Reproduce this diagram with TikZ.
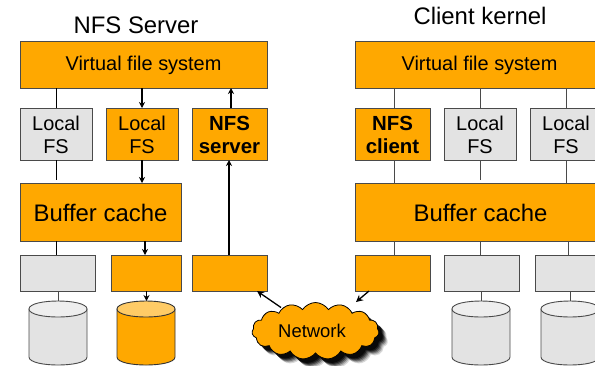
\documentclass[tikz,border=0pt]{standalone}
\usepackage{fontspec}
\setmainfont{Liberation Sans}
\usetikzlibrary{shapes.symbols,arrows.meta}
\definecolor{nfsorange}{HTML}{FFA800}
\definecolor{nfsgray}{HTML}{E3E3E3}
\definecolor{nfsedge}{HTML}{4A4A4A}
\newcommand{\bx}[7]{\node[#6,minimum width={(#4-#2)*1bp},minimum height={(#5-#3)*1bp}] (#1) at ({(#2+#4)/2},{(#3+#5)/2}) {};
  \node[#6,draw=none,fill=none] (#1t) at ({(#2+#4)/2},{(#3+#5)/2+1.2}) {#7};}
\newcommand{\cyl}[4]{% x1, x2, body style, top style
  \draw[#3] (#1,309) -- (#1,357) .. controls (#1,367.67) and (#2,367.67) .. (#2,357) -- (#2,309) -- cycle;
  \draw[#4] (#1,309) .. controls (#1,298.33) and (#2,298.33) .. (#2,309) .. controls (#2,319.67) and (#1,319.67) .. (#1,309) -- cycle;
}
\tikzset{
  boxbase/.style={draw=nfsedge,line width=0.9pt,inner sep=0pt,outer sep=0pt,align=center,text=black},
  orangebox/.style={boxbase,fill=nfsorange},
  graybox/.style={boxbase,fill=nfsgray},
  vfsfont/.style={font=\fontsize{20}{22}\selectfont},
  fsfont/.style={font=\fontsize{20}{23}\selectfont},
  boldfont/.style={font=\fontsize{20.5}{23}\selectfont\bfseries},
  bufffont/.style={font=\fontsize{24}{26}\selectfont},
  titlefont/.style={inner sep=0pt,font=\fontsize{24}{26}\selectfont},
  plainlink/.style={draw=nfsedge,line width=0.9pt},
  darklink/.style={draw=black,line width=0.9pt},
  arrowlink/.style={draw=black,line width=1.1pt,-{Stealth[length=6pt,width=6pt]}},
  diagarrow/.style={draw=black,line width=1.3pt,-{Stealth[length=7pt,width=7pt]}},
  cylg/.style={draw=nfsedge,line width=0.9pt,fill=nfsgray},
  cylgtop/.style={draw=nfsedge,line width=0.9pt,fill=nfsgray!60!white},
  cylo/.style={draw=black!80,line width=0.9pt,fill=nfsorange},
  cylotop/.style={draw=black!80,line width=0.9pt,fill=nfsorange!60!white},
  cloudbase/.style={cloud,cloud puffs=15,cloud puff arc=115,aspect=2.2,minimum width=127bp,minimum height=57bp,inner sep=0pt,outer sep=0pt},
}
\begin{document}
\begin{tikzpicture}[x=1bp,y=-1bp]
\useasboundingbox (0,0) rectangle (595,365);
\clip (0,0) rectangle (595,365);
\fill[white] (0,0) rectangle (595,365);
% x positions of the connectors
\foreach \n/\v in {a/56,b/142,c/145,d/146.5,e/58,f/231,g/229,h/394,i/480,j/566,k/568,l/481.5,m/570}
  \coordinate (x\n) at (\v,0);
% titles
\node[titlefont] (tserver) at (136,25) {NFS Server};
\node[titlefont] (tclient) at (480,15.5) {Client kernel};
% left stack
\bx{vfsl}{20}{41}{267}{88}{orangebox,vfsfont}{Virtual file system}
\bx{lfa}{20}{108}{92}{160}{graybox,fsfont}{Local\\FS}
\bx{lfb}{106}{108}{178}{160}{orangebox,fsfont}{Local\\FS}
\bx{nfss}{192}{108}{267}{160}{orangebox,boldfont}{NFS\\server}
\bx{bufl}{20}{183}{181}{241}{orangebox,bufffont}{Buffer cache}
\bx{dra}{20}{255}{95}{291}{graybox}{}
\bx{drb}{111}{255}{181}{291}{orangebox}{}
\bx{drc}{192}{255}{267}{291}{orangebox}{}
% right stack
\bx{vfsr}{355}{41}{600}{88}{orangebox}{}
\node[vfsfont] (vfsrt2) at (479.5,65.7) {Virtual file system};
\bx{nfsc}{355}{108}{430}{160}{orangebox,boldfont}{NFS\\client}
\bx{lfc}{444}{108}{516}{160}{graybox,fsfont}{Local\\FS}
\bx{lfd}{530}{108}{602}{160}{graybox,fsfont}{Local\\FS}
\bx{bufr}{355}{183}{606}{241}{orangebox}{}
\node[bufffont] (bufrt2) at (480.5,213) {Buffer cache};
\bx{drd}{355}{255}{430}{291}{orangebox}{}
\bx{dre}{444}{255}{519}{291}{graybox}{}
\bx{drf}{535}{255}{610}{291}{graybox}{}
% free ends and disk tops
\coordinate (lfastub) at (56,180);
\coordinate (lfcstub) at (480,180);
\coordinate (disktop) at (0,301);
% connectors, left
\draw[darklink] (vfsl.south -| xa) -- (lfa.north -| xa);
\draw[darklink] (lfa.south -| xa) -- (lfastub);
\draw[darklink] (bufl.south -| xa) -- (dra.north -| xa);
\draw[plainlink] (dra.south -| xe) -- (disktop -| xe);
\draw[arrowlink] (vfsl.south -| xb) -- (lfb.north -| xb);
\draw[arrowlink] (lfb.south -| xb) -- (bufl.north -| xb);
\draw[arrowlink] (bufl.south -| xc) -- (drb.north -| xc);
\draw[arrowlink] (nfss.north -| xf) -- (vfsl.south -| xf);
\draw[arrowlink] (drc.north -| xg) -- (nfss.south -| xg);
% connectors, right
\draw[plainlink] (vfsr.south -| xh) -- (nfsc.north -| xh);
\draw[plainlink] (vfsr.south -| xi) -- (lfc.north -| xi);
\draw[plainlink] (vfsr.south -| xj) -- (lfd.north -| xj);
\draw[plainlink] (nfsc.south -| xh) -- (bufr.north -| xh);
\draw[plainlink] (lfc.south -| xi) -- (lfcstub);
\draw[plainlink] (lfd.south -| xj) -- (bufr.north -| xj);
\draw[plainlink] (bufr.south -| xh) -- (drd.north -| xh);
\draw[plainlink] (bufr.south -| xi) -- (dre.north -| xi);
\draw[plainlink] (bufr.south -| xk) -- (drf.north -| xk);
\draw[plainlink] (dre.south -| xl) -- (disktop -| xl);
\draw[plainlink] (drf.south -| xm) -- (disktop -| xm);
% disks
\cyl{29}{87}{cylg}{cylgtop}
\cyl{452}{510}{cylg}{cylgtop}
\cyl{541}{599}{cylg}{cylgtop}
\cyl{117}{175}{cylo}{cylotop}
\draw[arrowlink] (drb.south -| xd) -- (disktop -| xd);
% cloud shadow
\foreach \o/\a in {9/0.15,8/0.2,7/0.3,6/0.4,5/0.55,4/0.7}
  \node[cloudbase,fill=black,opacity=\a] (shadow\o) at (315.5+\o,331+\o) {};
\node[cloudbase,draw=black,line width=0.8pt,fill=nfsorange] (net) at (315.5,331) {};
\node[inner sep=0pt,font=\fontsize{18.5}{20}\selectfont] (nettext) at (312,331) {Network};
% cloud arrows
\coordinate (netl) at (281,307.5);
\coordinate (netr) at (356,302);
\coordinate (boxl) at (257,291);
\coordinate (boxr) at (369,291);
\draw[diagarrow] (netl) -- (boxl);
\draw[diagarrow] (boxr) -- (netr);
\end{tikzpicture}
\end{document}
